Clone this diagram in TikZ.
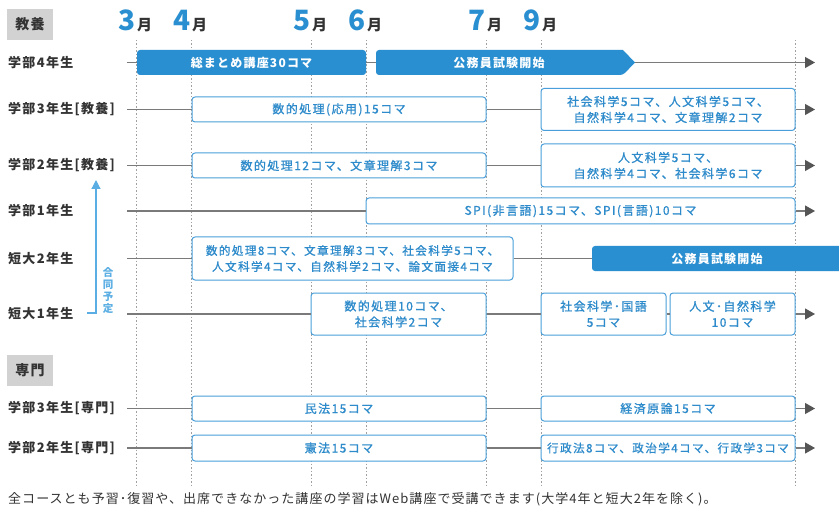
\documentclass[tikz,border=0pt]{standalone}
\usepackage{fontspec}
\setmainfont{Noto Sans CJK JP}
\newfontfamily\boxfont[LetterSpace=12,FakeBold=1]{Noto Sans CJK JP}
\newfontfamily\boxbold[LetterSpace=10]{Noto Sans CJK JP}
\newfontfamily\lblfont[LetterSpace=10]{Noto Sans CJK JP}
\newfontfamily\footfont[LetterSpace=8]{Noto Sans CJK JP}
\usetikzlibrary{arrows.meta}
\definecolor{mblue}{HTML}{2A8FD0}
\definecolor{bordblue}{HTML}{4A9FDA}
\definecolor{txtblue}{HTML}{2E8BCB}
\definecolor{lblue}{HTML}{5AAEE3}
\definecolor{rowgray}{HTML}{7A7A7A}
\definecolor{arrgray}{HTML}{555555}
\definecolor{dotgray}{HTML}{A0A0A0}
\definecolor{hdrgray}{HTML}{D2D2D2}
\definecolor{txtdark}{HTML}{333333}
\tikzset{
  wbox/.style={draw=bordblue, line width=1pt, fill=white, rounded corners=3pt, inner sep=0pt,
    text=txtblue, font=\boxfont\fontsize{12}{16}\selectfont, align=center},
  fbox/.style={fill=mblue, rounded corners=3pt, inner sep=0pt, draw=none,
    text=white, font=\boxbold\bfseries\fontsize{12}{16}\selectfont, align=center},
  rowlbl/.style={anchor=west, inner sep=0pt, text=txtdark, font=\lblfont\bfseries\fontsize{13}{15}\selectfont},
  hdr/.style={fill=hdrgray, minimum width=46, minimum height=31, inner sep=0pt, text=txtdark,
    font=\lblfont\bfseries\fontsize{14}{16}\selectfont},
  rowline/.style={draw=rowgray, line width=1.2pt},
  rowarrow/.style={draw=rowgray, line width=1.2pt, -{Triangle[length=10pt,width=11pt,color=arrgray]}},
  vdot/.style={draw=dotgray, line width=0.8pt, dash pattern=on 1.5pt off 2pt},
  mnum/.style={inner sep=0pt, anchor=base east, text=mblue, font=\bfseries\fontsize{28}{30}\selectfont},
  mtsu/.style={inner sep=0pt, anchor=base west, text=txtdark, font=\bfseries\fontsize{15}{16}\selectfont},
}
\begin{document}
\begin{tikzpicture}[x=1pt, y=-1pt]
\useasboundingbox[fill=white] (0,0) rectangle (839,508);

% vertical dotted guides
\foreach \xx in {136.5,191.5,311.5,366.5,486,541,795}
  \draw[vdot] (\xx,40) -- (\xx,488);

% month labels
\node[mnum] (m3) at (136,31) {3};  \node[mtsu] (m3t) at (137,31) {月};
\node[mnum] (m4) at (191,31) {4};  \node[mtsu] (m4t) at (192,31) {月};
\node[mnum] (m5) at (311,31) {5};  \node[mtsu] (m5t) at (312,31) {月};
\node[mnum] (m6) at (366,31) {6};  \node[mtsu] (m6t) at (367,31) {月};
\node[mnum] (m7) at (486,31) {7};  \node[mtsu] (m7t) at (487,31) {月};
\node[mnum] (m9) at (541,31) {9};  \node[mtsu] (m9t) at (542,31) {月};

% headers
\node[hdr] (h1) at (30,24.5) {教養};
\node[hdr] (h2) at (30,370.5) {専門};

% row labels
\node[rowlbl] (l1) at (8,62.5) {学部4年生};
\node[rowlbl] (l2) at (8,109.5) {学部3年生[教養]};
\node[rowlbl] (l3) at (8,165.5) {学部2年生[教養]};
\node[rowlbl] (l4) at (8,211) {学部1年生};
\node[rowlbl] (l5) at (8,258.5) {短大2年生};
\node[rowlbl] (l6) at (8,314) {短大1年生};
\node[rowlbl] (l7) at (8,408.5) {学部3年生[専門]};
\node[rowlbl] (l8) at (8,448) {学部2年生[専門]};

% row start / end coordinates
\foreach \nm/\yy in {1/62.5,2/109.5,3/165.5,4/211,5/258.5,6/314,7/408.5,8/448}{
  \coordinate (s\nm) at (127,\yy);
  \coordinate (e\nm) at (815,\yy);
}

% row 1
\node[fbox, minimum width=229, minimum height=25] (a1) at (251.5,62.5) {総まとめ講座30コマ};
\fill[mblue, rounded corners=3pt] (376,50) -- (376,75) -- (623,75) [sharp corners] -- (635,62.5) -- (623,50) [rounded corners=3pt] -- cycle;
\node[inner sep=0pt, text=white, font=\boxbold\bfseries\fontsize{12}{16}\selectfont] (a2) at (499,62.5) {公務員試験開始};
\coordinate (a2l) at (376,62.5);
\coordinate (a2r) at (635,62.5);
\draw[rowline] (s1) -- (a1.west);
\draw[rowline] (a1.east) -- (a2l);
\draw[rowarrow] (a2r) -- (e1);

% row 2
\node[wbox, minimum width=294, minimum height=25] (b1) at (339,109.5) {数的処理(応用)15コマ};
\node[wbox, minimum width=254, minimum height=42] (b2) at (668,109.5) {社会科学5コマ、人文科学5コマ、\\自然科学4コマ、文章理解2コマ};
\draw[rowline] (s2) -- (b1.west);
\draw[rowline] (b1.east) -- (b2.west);
\draw[rowarrow] (b2.east) -- (e2);

% row 3
\node[wbox, minimum width=294, minimum height=25] (c1) at (339,165.5) {数的処理12コマ、文章理解3コマ};
\node[wbox, minimum width=254, minimum height=43] (c2) at (668,165.5) {人文科学5コマ、\\自然科学4コマ、社会科学6コマ};
\draw[rowline] (s3) -- (c1.west);
\draw[rowline] (c1.east) -- (c2.west);
\draw[rowarrow] (c2.east) -- (e3);

% row 4
\node[wbox, minimum width=429, minimum height=26] (d1) at (580.5,211) {SPI(非言語)15コマ、SPI(言語)10コマ};
\draw[rowline] (s4) -- (d1.west);
\draw[rowarrow] (d1.east) -- (e4);

% row 5
\node[wbox, minimum width=321, minimum height=43, font=\boxfont\fontsize{11.6}{16}\selectfont] (f1) at (352.5,258.5) {数的処理8コマ、文章理解3コマ、社会科学5コマ、\\人文科学4コマ、自然科学2コマ、論文面接4コマ};
\node[fbox, minimum width=250, minimum height=25] (f2) at (717,258.5) {公務員試験開始};
\draw[rowline] (s5) -- (f1.west);
\draw[rowline] (f1.east) -- (f2.west);

% row 6
\node[wbox, minimum width=175, minimum height=42] (g1) at (398.5,314) {数的処理10コマ、\\社会科学2コマ};
\node[wbox, minimum width=125, minimum height=42] (g2) at (603.5,314) {社会科学･国語\\5コマ};
\node[wbox, minimum width=125, minimum height=42] (g3) at (732.5,314) {人文･自然科学\\10コマ};
\draw[rowline] (s6) -- (g1.west);
\draw[rowline] (g1.east) -- (g2.west);
\draw[rowline] (g2.east) -- (g3.west);
\draw[rowarrow] (g3.east) -- (e6);

% row 7
\node[wbox, minimum width=294, minimum height=25] (k1) at (339,408.5) {民法15コマ};
\node[wbox, minimum width=254, minimum height=25] (k2) at (668,408.5) {経済原論15コマ};
\draw[rowline] (s7) -- (k1.west);
\draw[rowline] (k1.east) -- (k2.west);
\draw[rowarrow] (k2.east) -- (e7);

% row 8
\node[wbox, minimum width=294, minimum height=26] (n1) at (339,448) {憲法15コマ};
\node[wbox, minimum width=254, minimum height=26, font=\boxfont\fontsize{11.6}{16}\selectfont] (n2) at (668,448) {行政法8コマ、政治学4コマ、行政学3コマ};
\draw[rowline] (s8) -- (n1.west);
\draw[rowline] (n1.east) -- (n2.west);
\draw[rowarrow] (n2.east) -- (e8);

% joint arrow
\coordinate (j0) at (87,313);
\coordinate (j1) at (96,313);
\coordinate (j2) at (96,180);
\draw[lblue, line width=1.2pt, -{Triangle[length=9pt,width=9pt]}] (j0) -- (j1) -- (j2);
\node[inner sep=0pt, text=lblue, font=\bfseries\fontsize{10.5}{12}\selectfont, align=center] (jt) at (108,291) {合\\同\\予\\定};

% footnote
\node[anchor=west, inner sep=0pt, text=txtdark, font=\footfont\fontsize{13}{14}\selectfont] (foot) at (8,499) {全コースとも予習･復習や、出席できなかった講座の学習はWeb講座で受講できます(大学4年と短大2年を除く)。};
\end{tikzpicture}
\end{document}
